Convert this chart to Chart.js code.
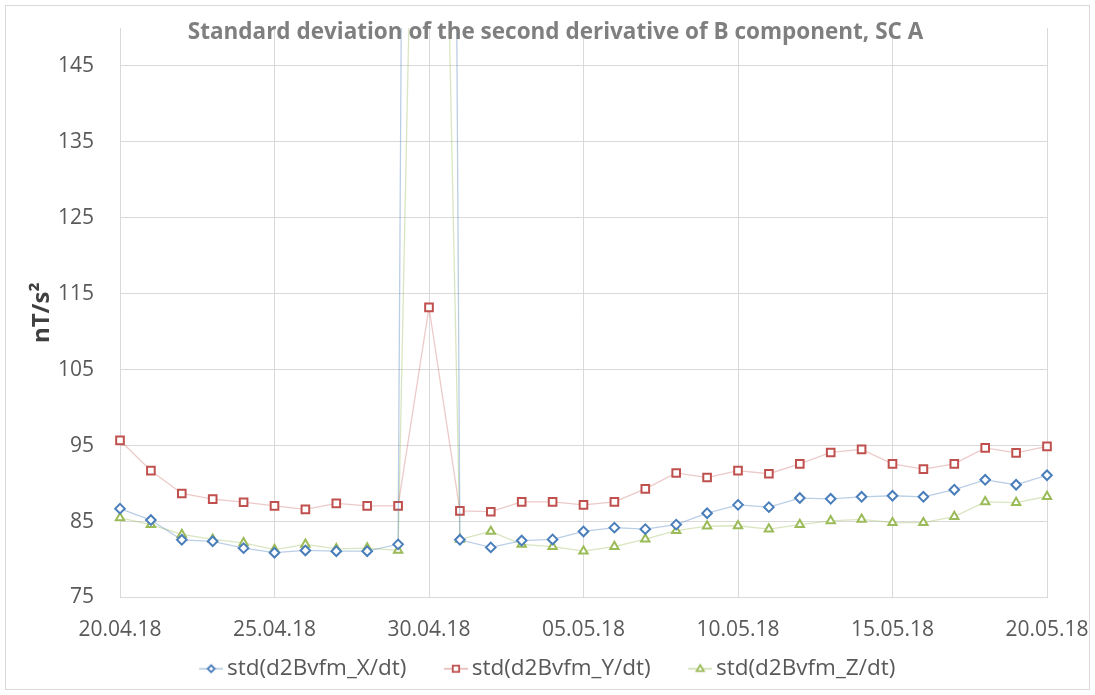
<!DOCTYPE html>
<html>
<head>
<meta charset="utf-8">
<script src="https://cdn.jsdelivr.net/npm/chart.js@4/dist/chart.umd.min.js"></script>
<style>
  body { margin: 0; background: #fff; }
  #frame { position: absolute; left: 5px; top: 5px; width: 1083px; height: 683px; border: 1px solid #d9d9d9; }
  #wrap { position: absolute; left: 0; top: 0; width: 1095px; height: 695px; }
</style>
</head>
<body>
<div id="frame"></div>
<div id="wrap"><canvas id="myChart"></canvas></div>
<script>
const days = ["20.04.18","21.04.18","22.04.18","23.04.18","24.04.18","25.04.18","26.04.18","27.04.18","28.04.18","29.04.18",
  "30.04.18","01.05.18","02.05.18","03.05.18","04.05.18","05.05.18","06.05.18","07.05.18","08.05.18","09.05.18",
  "10.05.18","11.05.18","12.05.18","13.05.18","14.05.18","15.05.18","16.05.18","17.05.18","18.05.18","19.05.18","20.05.18"];

const stdX = [86.7, 85.2, 82.6, 82.4, 81.5, 80.9, 81.2, 81.1, 81.1, 82.0,
  750, 82.6, 81.6, 82.5, 82.65, 83.7, 84.2, 84.0, 84.6, 86.1,
  87.2, 86.9, 88.1, 88.0, 88.26, 88.4, 88.26, 89.2, 90.5, 89.85, 91.1];
const stdY = [95.7, 91.7, 88.7, 87.95, 87.55, 87.06, 86.6, 87.4, 87.06, 87.06,
  113.2, 86.4, 86.3, 87.6, 87.6, 87.2, 87.6, 89.3, 91.4, 90.8,
  91.7, 91.3, 92.6, 94.1, 94.5, 92.6, 91.9, 92.6, 94.7, 94.05, 94.9];
const stdZ = [85.5, 84.6, 83.3, 82.65, 82.2, 81.3, 82.0, 81.4, 81.5, 81.2,
  280, 82.65, 83.7, 82.0, 81.7, 81.1, 81.7, 82.7, 83.8, 84.4,
  84.45, 84.0, 84.6, 85.1, 85.3, 84.85, 84.85, 85.65, 87.6, 87.5, 88.3];

const yTicks = [75, 85, 95, 105, 115, 125, 135, 145];
const seriesNames = ["std(d2Bvfm_X/dt)", "std(d2Bvfm_Y/dt)", "std(d2Bvfm_Z/dt)"];

const fontFam = "'Open Sans', 'Noto Sans', sans-serif";
const gridGrey = "#d9d9d9";

//--LEGEND SYMBOLS (line with marker, drawn at the right end of a wider image)--
function legendSymbol(style, markerColor, lineColor, radius) {
  let c = document.createElement("canvas");
  c.width = 59;
  c.height = 14;
  let ctx = c.getContext("2d");
  let cx = 59 - 12;
  ctx.strokeStyle = lineColor;
  ctx.lineWidth = 1.3;
  ctx.beginPath();
  ctx.moveTo(cx - 12, 7);
  ctx.lineTo(cx + 12, 7);
  ctx.stroke();
  ctx.fillStyle = "#fff";
  ctx.strokeStyle = markerColor;
  ctx.lineWidth = 1.8;
  ctx.beginPath();
  if (style === "rectRot") {
    ctx.moveTo(cx, 7 - radius); ctx.lineTo(cx + radius, 7); ctx.lineTo(cx, 7 + radius); ctx.lineTo(cx - radius, 7); ctx.closePath();
  } else if (style === "rect") {
    ctx.rect(cx - radius, 7 - radius, radius * 2, radius * 2);
  } else {
    ctx.moveTo(cx, 7 - radius); ctx.lineTo(cx + radius * 0.95, 7 + radius * 0.6); ctx.lineTo(cx - radius * 0.95, 7 + radius * 0.6); ctx.closePath();
  }
  ctx.fill();
  ctx.stroke();
  return c;
}

const symX = legendSymbol("rectRot", "#4a7ebb", "rgba(74,126,187,0.5)", 3.5);
const symY = legendSymbol("rect", "#c0504d", "rgba(192,80,77,0.5)", 3.2);
const symZ = legendSymbol("triangle", "#9bbb59", "rgba(155,187,89,0.6)", 3.8);

const titlePlugin = {
  id: "overlayTitle",
  afterDraw(chart) {
    let ctx = chart.ctx;
    ctx.save();
    ctx.font = "bold 22.5px " + fontFam;
    ctx.fillStyle = "#7f7f7f";
    ctx.textAlign = "center";
    ctx.textBaseline = "middle";
    ctx.fillText("Standard deviation of the second derivative of B component, SC A", chart.width / 2 + 8, 33);
    ctx.restore();
  },
};

const ctx = document.getElementById("myChart").getContext("2d");
const myChart = new Chart(ctx, {
  type: "line",
  data: {
    labels: days,
    datasets: [
      {
        label: seriesNames[0],
        data: stdX,
        borderColor: "rgba(74,126,187,0.38)",
        borderWidth: 1.3,
        pointStyle: "rectRot",
        pointRadius: 4.8,
        pointBorderWidth: 2,
        pointBorderColor: "#4a7ebb",
        pointBackgroundColor: "#fff",
        tension: 0,
      },
      {
        label: seriesNames[1],
        data: stdY,
        borderColor: "rgba(192,80,77,0.3)",
        borderWidth: 1.3,
        pointStyle: "rect",
        pointRadius: 5.4,
        pointBorderWidth: 2,
        pointBorderColor: "#c0504d",
        pointBackgroundColor: "#fff",
        tension: 0,
      },
      {
        label: seriesNames[2],
        data: stdZ,
        borderColor: "rgba(155,187,89,0.38)",
        borderWidth: 1.3,
        pointStyle: "triangle",
        pointRadius: 4.8,
        pointBorderWidth: 2,
        pointBorderColor: "#9bbb59",
        pointBackgroundColor: "#fff",
        tension: 0,
      },
    ],
  },
  options: {
    responsive: true,
    maintainAspectRatio: false,
    animation: false,
    layout: { padding: { left: 20, right: 48, top: 28, bottom: 5 } },
    plugins: {
      title: { display: false },
      tooltip: { enabled: false },
      legend: {
        position: "bottom",
        labels: {
          usePointStyle: true,
          pointStyleWidth: 44,
          padding: 10,
          color: "#595959",
          font: { family: fontFam, size: 22.5 },
          generateLabels(chart) {
            let syms = [symX, symY, symZ];
            return chart.data.datasets.map((ds, i) => ({
              text: ds.label,
              pointStyle: syms[i],
              fillStyle: "#fff",
              strokeStyle: "#fff",
              lineWidth: 0,
              fontColor: "#595959",
              datasetIndex: i,
              hidden: false,
            }));
          },
        },
      },
    },
    scales: {
      x: {
        grid: { color: gridGrey, drawTicks: false },
        border: { color: gridGrey },
        afterBuildTicks(scale) {
          scale.ticks = scale.ticks.filter((t) => t.value % 5 === 0);
        },
        afterFit(scale) {
          scale.height = 50;
          scale.paddingLeft = 0;
          scale.paddingRight = 0;
        },
        ticks: {
          autoSkip: false,
          maxRotation: 0,
          padding: 20,
          color: "#595959",
          font: { family: fontFam, size: 21 },
        },
      },
      y: {
        min: 75,
        max: 150,
        afterBuildTicks(scale) {
          scale.ticks = yTicks.map((v) => ({ value: v }));
        },
        afterFit(scale) {
          scale.width = 100;
          scale.paddingTop = 0;
          scale.paddingBottom = 0;
        },
        grid: { color: gridGrey, drawTicks: false },
        border: { display: false },
        ticks: {
          padding: 26,
          color: "#595959",
          font: { family: fontFam, size: 21 },
        },
        title: {
          display: true,
          text: "nT/s²",
          color: "#404040",
          padding: { top: 8, bottom: 0 },
          font: { family: fontFam, size: 24, weight: "bold" },
        },
      },
    },
  },
  plugins: [titlePlugin],
});
</script>
</body>
</html>
